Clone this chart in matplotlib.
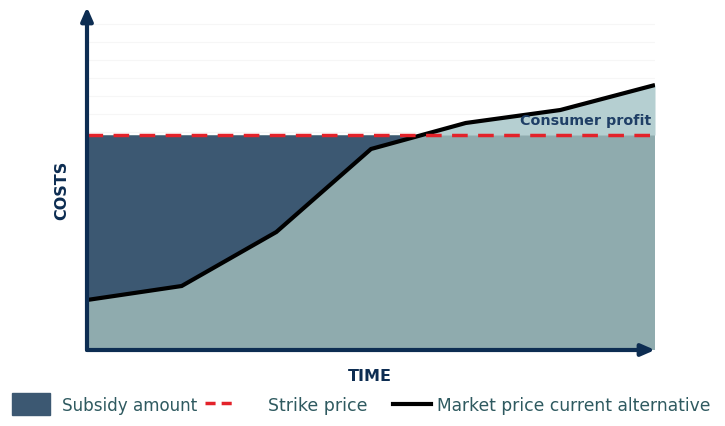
import matplotlib
matplotlib.use("Agg")
import matplotlib.pyplot as plt
import numpy as np
from matplotlib.patches import Rectangle
from matplotlib.lines import Line2D

# Data (arbitrary units)
time = [0, 1, 2, 3, 4, 5, 6]
market_price = [5.0, 6.4, 11.8, 20.1, 22.7, 24.0, 26.5]
strike_price = 21.5
y_top = 34.3

NAVY = "#0d2d52"
DARK_FILL = "#3c5872"
GRAY_FILL = "#8fabae"
LIGHT_FILL = "#b5cfd1"
RED = "#e3222a"
TEXT = "#2f5a60"

fig = plt.figure(figsize=(7.25, 4.27), dpi=100)
W, H = 725, 427
ax = fig.add_axes([87 / W, (H - 351) / H, (655 - 87) / W, (351 - 8) / H])
ax.set_xlim(time[0], time[-1])
ax.set_ylim(0, y_top)
for s in ax.spines.values():
    s.set_visible(False)
ax.set_xticks([])
ax.set_yticks([])

x = np.array(time, dtype=float)
m = np.array(market_price)
st = np.full_like(m, strike_price)

for yy in np.arange(2, y_top, 1.8):
    if yy > strike_price:
        ax.axhline(yy, color="#f6f6f6", lw=0.8, zorder=0)

ax.fill_between(x, 0, st, color=GRAY_FILL, lw=0, zorder=1)
ax.fill_between(x, m, st, where=m < st, interpolate=True, color=DARK_FILL, lw=0, zorder=2)
ax.fill_between(x, st, m, where=m > st, interpolate=True, color=LIGHT_FILL, lw=0, zorder=2)
ax.fill_between(x, 0, m, where=m < st, interpolate=True, color=GRAY_FILL, lw=0, zorder=2)

ax.plot(x, m, color="black", lw=3, zorder=4, solid_capstyle="butt", solid_joinstyle="miter")
ax.plot([x[0], x[-1]], [strike_price, strike_price], color=RED, lw=2.5,
        dashes=(4.5, 3), zorder=5)

# axis arrows
ax.annotate("", xy=(0, 1.0), xytext=(0, 0), xycoords="axes fraction",
            arrowprops=dict(arrowstyle="-|>,head_width=0.35,head_length=0.8",
                            color=NAVY, lw=3, shrinkA=0, shrinkB=0), zorder=6,
            annotation_clip=False)
ax.annotate("", xy=(1.0, 0), xytext=(0, 0), xycoords="axes fraction",
            arrowprops=dict(arrowstyle="-|>,head_width=0.35,head_length=0.8",
                            color=NAVY, lw=3, shrinkA=0, shrinkB=0), zorder=6,
            annotation_clip=False)

ax.text(5.96, strike_price + 0.75, "Consumer profit", ha="right", va="bottom",
        fontsize=10.3, fontweight="bold", color="#1f3f66", zorder=7)

fig.text(62 / W, 1 - 190 / H, "COSTS", rotation=90, ha="center", va="center",
         fontsize=11.5, fontweight="bold", color=NAVY)
fig.text(370 / W, 1 - 377 / H, "TIME", ha="center", va="center",
         fontsize=11.5, fontweight="bold", color=NAVY)

# legend row
fig.patches.append(Rectangle((12 / W, 1 - 416 / H), 38 / W, 22 / H,
                             transform=fig.transFigure, color=DARK_FILL))
fig.text(62 / W, 1 - 406 / H, "Subsidy amount", ha="left", va="center",
         fontsize=12.1, color=TEXT)
fig.lines.append(Line2D([205 / W, 232 / W], [1 - 404 / H] * 2, transform=fig.transFigure,
                        color=RED, lw=2.5, dashes=(2.9, 1.75)))
fig.text(268 / W, 1 - 406 / H, "Strike price", ha="left", va="center",
         fontsize=12.5, color=TEXT)
fig.lines.append(Line2D([393 / W, 431 / W], [1 - 405 / H] * 2, transform=fig.transFigure,
                        color="black", lw=3))
fig.text(437 / W, 1 - 406 / H, "Market price current alternative", ha="left", va="center",
         fontsize=12.3, color=TEXT)

fig.savefig("out.png", dpi=100)
